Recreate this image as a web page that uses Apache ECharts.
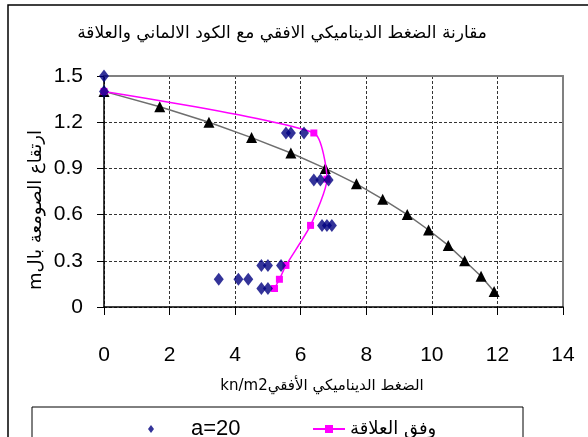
<!DOCTYPE html>
<html><head><meta charset="utf-8">
<script src="https://cdn.jsdelivr.net/npm/echarts@6/dist/echarts.min.js"></script>
<style>html,body{margin:0;padding:0;background:#fff;overflow:hidden}#c{width:588px;height:437px}</style>
</head><body><div id="c"></div>
<script>
// a=20 measured points
const a20X = [0, 0, 5.55, 5.7, 6.1, 6.4, 6.6, 6.85, 6.65, 6.8, 6.95, 4.8, 5.0, 5.4, 3.5, 4.1, 4.4, 4.8, 5.0];
const a20Y = [1.5, 1.4, 1.13, 1.13, 1.13, 0.825, 0.825, 0.825, 0.53, 0.53, 0.53, 0.27, 0.27, 0.27, 0.18, 0.18, 0.18, 0.12, 0.12];
// relation curve
const relX = [0, 6.4, 6.8, 6.3, 5.55, 5.35, 5.2];
const relY = [1.4, 1.13, 0.83, 0.53, 0.27, 0.18, 0.12];
// German code
const gerX = [0, 1.7, 3.2, 4.5, 5.7, 6.75, 7.7, 8.5, 9.25, 9.9, 10.5, 11.0, 11.5, 11.9];
const gerY = [1.4, 1.3, 1.2, 1.1, 1.0, 0.9, 0.8, 0.7, 0.6, 0.5, 0.4, 0.3, 0.2, 0.1];

const titleText = 'مقارنة الضغط الديناميكي الافقي مع الكود الالماني والعلاقة';
const xName = 'kn/m2الضغط الديناميكي الأفقي';
const yName = 'mارتقاع الصومعة بال';
const nameA20 = 'a=20';
const nameRel = 'وفق العلاقة';
const nameGer = 'الكود الألماني';

const zip = (xs, ys) => xs.map((x, i) => [x, ys[i]]);
const labFont = 'Liberation Sans';
const arFont = 'DejaVu Sans';
const gridLine = {show: true, lineStyle: {color: '#333', width: 1, type: [3, 2]}};

const chart = echarts.init(document.getElementById('c'), null, {renderer: 'canvas'});
chart.setOption({
  animation: false,
  backgroundColor: '#ffffff',
  title: {
    text: titleText, left: 277, top: 20, textAlign: 'center',
    textStyle: {fontFamily: arFont, fontSize: 17, fontWeight: 'normal', color: '#000'}
  },
  grid: {left: 104, top: 76, right: 25, bottom: 130},
  xAxis: [{
    type: 'value', min: 0, max: 14, interval: 2, position: 'bottom',
    axisLine: {show: true, onZero: false, lineStyle: {color: '#000', width: 1.5}},
    axisTick: {show: true, inside: false, length: 8, lineStyle: {color: '#000'}},
    axisLabel: {margin: 38, fontSize: 21, fontFamily: labFont, color: '#000'},
    splitLine: gridLine
  }, {
    type: 'value', min: 0, max: 14, interval: 2, position: 'top',
    axisLine: {show: true, onZero: false, lineStyle: {color: '#808080', width: 2}},
    axisTick: {show: false}, axisLabel: {show: false}, splitLine: {show: false}
  }],
  yAxis: [{
    type: 'value', min: 0, max: 1.5, interval: 0.3, position: 'left',
    axisLine: {show: true, onZero: false, lineStyle: {color: '#000', width: 1.5}},
    axisTick: {show: true, inside: false, length: 7, lineStyle: {color: '#000'}},
    axisLabel: {margin: 21, fontSize: 21, fontFamily: labFont, color: '#000',
      formatter: v => (Math.round(v * 10) / 10).toString()},
    splitLine: gridLine
  }, {
    type: 'value', min: 0, max: 1.5, interval: 0.3, position: 'right',
    axisLine: {show: true, onZero: false, lineStyle: {color: '#808080', width: 2}},
    axisTick: {show: false}, axisLabel: {show: false}, splitLine: {show: false}
  }],
  legend: [
    {data: [nameA20], left: 143, top: 413, icon: 'diamond', itemWidth: 6, itemHeight: 8, z: 10,
      textStyle: {fontSize: 22, fontFamily: labFont, color: '#000', padding: [0, 0, 0, 32]}},
    {data: [nameRel], left: 307, top: 415, itemWidth: 32, itemHeight: 10, z: 10,
      textStyle: {fontSize: 18, fontFamily: arFont, color: '#000'}}
  ],
  graphic: [
    {type: 'rect', z: -10, shape: {x: 8, y: 5, width: 640, height: 500}, style: {fill: 'none', stroke: '#000', lineWidth: 1.5}},
    {type: 'rect', z: 1, shape: {x: 32, y: 407, width: 491, height: 50}, style: {fill: '#fff', stroke: '#000', lineWidth: 1}},
    {type: 'text', x: 322, y: 386, style: {text: xName, font: '15px "DejaVu Sans"', fill: '#000', align: 'center', verticalAlign: 'middle', textAlign: 'center', textVerticalAlign: 'middle'}},
    {type: 'text', x: 36, y: 210, rotation: Math.PI / 2, style: {text: yName, font: '18px "DejaVu Sans"', fill: '#000', align: 'center', verticalAlign: 'middle', textAlign: 'center', textVerticalAlign: 'middle'}}
  ],
  series: [
    {name: nameGer, type: 'line', data: zip(gerX, gerY), symbol: 'triangle', symbolSize: 11, z: 3,
      lineStyle: {color: '#6e6e6e', width: 1.5}, itemStyle: {color: '#000'}},
    {name: nameRel, type: 'line', data: zip(relX, relY), smooth: 0.2, symbol: 'rect', symbolSize: 7, z: 4,
      lineStyle: {color: '#ff00ff', width: 1.5}, itemStyle: {color: '#ff00ff'}},
    {name: nameA20, type: 'scatter', data: zip(a20X, a20Y), symbol: 'diamond', symbolSize: [10, 13], z: 5,
      itemStyle: {color: '#000080'}}
  ]
});
</script></body></html>
